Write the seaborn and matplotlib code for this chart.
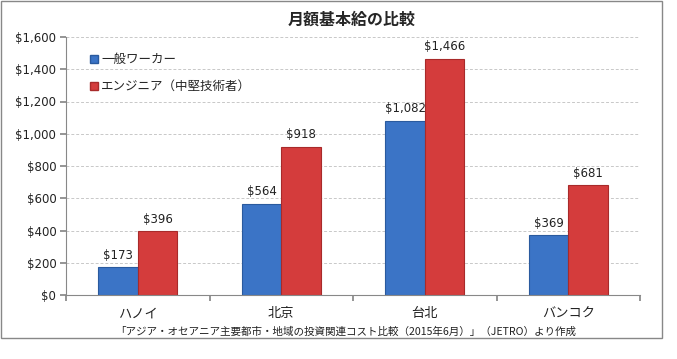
import matplotlib
matplotlib.use("Agg")
import matplotlib.pyplot as plt
import seaborn as sns
import pandas as pd
from matplotlib.patches import Rectangle
from matplotlib.lines import Line2D

cities = ["ハノイ", "北京", "台北", "バンコク"]
workers = [173, 564, 1082, 369]
engineers = [396, 918, 1466, 681]
series_names = ["一般ワーカー", "エンジニア（中堅技術者）"]
yticks = [0, 200, 400, 600, 800, 1000, 1200, 1400, 1600]
title = "月額基本給の比較"
source = "「アジア・オセアニア主要都市・地域の投資関連コスト比較（2015年6月）」（JETRO）より作成"

sns.set_theme(style="white")
plt.rcParams['font.family'] = ['Noto Sans CJK JP', 'DejaVu Sans']

df = pd.DataFrame({
    "city": cities * 2,
    "value": workers + engineers,
    "series": [series_names[0]] * 4 + [series_names[1]] * 4,
})

colors = ["#3B74C6", "#D43C3C"]
edge = ["#2A5A9E", "#A82A2A"]

fig = plt.figure(figsize=(6.77, 3.59), dpi=100)
ax = fig.add_axes([66/677, 1-295/359, (640-66)/677, (295-37)/359])

sns.barplot(data=df, x="city", y="value", hue="series", palette=colors,
            width=0.55, ax=ax, legend=False, saturation=1)

for i, cont in enumerate(ax.containers):
    for bar in cont:
        bar.set_edgecolor(edge[i])
        bar.set_linewidth(0.8)
    ax.bar_label(cont, labels=[f"${int(v):,}" for v in cont.datavalues],
                 padding=4, fontsize=8.5, family="DejaVu Sans", color="#222222")

ax.set_ylim(0, 1600)
ax.set_yticks(yticks)
ax.set_yticklabels([f"${v:,}" for v in yticks], fontsize=8.5, family="DejaVu Sans", color="#222222")
ax.set_xlim(-0.5, 3.5)
ax.set_xticks([-0.5, 0.5, 1.5, 2.5, 3.5], minor=False)
ax.set_xticklabels([])
ax.set_xticks([0, 1, 2, 3], minor=True)
ax.set_xticklabels(cities, minor=True, fontsize=9.5, color="#222222")
ax.tick_params(axis="x", which="minor", length=0, pad=9)
ax.tick_params(axis="x", which="major", length=4, color="#888888", direction="out", bottom=True)
ax.tick_params(axis="y", length=4, color="#888888", direction="out", left=True, pad=3)
ax.set_xlabel("")
ax.set_ylabel("")

for v in yticks[1:]:
    ax.axhline(v, color="#C8C8C8", linestyle=(0, (3, 2)), linewidth=0.7, zorder=0)
ax.set_axisbelow(True)

for s in ["top", "right"]:
    ax.spines[s].set_visible(False)
ax.spines["left"].set_color("#888888")
ax.spines["bottom"].set_color("#888888")
ax.spines["left"].set_linewidth(0.8)
ax.spines["bottom"].set_linewidth(0.8)

handles = [Line2D([], [], marker="s", linestyle="", markersize=6,
                  markerfacecolor=colors[i], markeredgecolor=edge[i]) for i in range(2)]
ax.legend(handles, series_names, loc="upper left", bbox_to_anchor=(0.02, 0.98),
          frameon=False, fontsize=9, handletextpad=0.2, labelspacing=1.1,
          handlelength=0.8)

fig.text(352/677, 1-20/359, title, ha="center", va="center", fontsize=11.5, fontweight="bold")
fig.text(346/677, 1-332/359, source, ha="center", va="center", fontsize=7.6, color="#222222")

fig.patches.append(Rectangle((0.5/677, 1-338/359), 661/677, 338/359 - 0.5/359,
                             transform=fig.transFigure, fill=False,
                             edgecolor="#888888", linewidth=1))

fig.savefig("out.png", dpi=100)
